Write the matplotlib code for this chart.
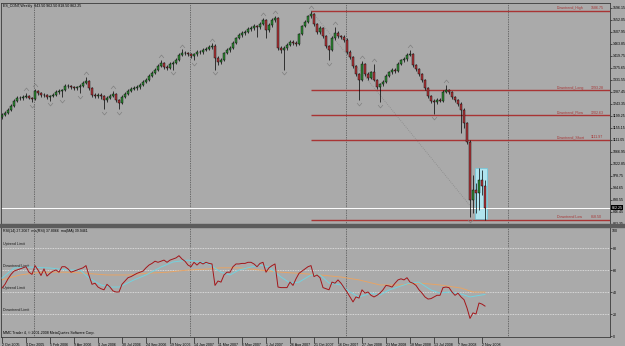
import matplotlib.pyplot as plt
import numpy as np
from matplotlib.patches import Rectangle
from matplotlib.path import Path

plt.rcParams.update({
    "font.family": ["Liberation Sans", "DejaVu Sans"],
    "font.size": 2.6,
})

# --- dati: barre settimanali ES ---
first_open = 1196
closes = [
    1203, 1211, 1222, 1236, 1255, 1266, 1264, 1269, 1273, 1266,
    1262, 1291, 1284, 1277, 1275, 1269, 1273, 1277, 1288, 1291,
    1295, 1310, 1308, 1306, 1302, 1304, 1310, 1321, 1328, 1302,
    1277, 1273, 1277, 1273, 1258, 1266, 1273, 1280, 1258, 1247,
    1269, 1280, 1291, 1299, 1302, 1306, 1313, 1324, 1332, 1346,
    1357, 1368, 1383, 1394, 1379, 1376, 1390, 1394, 1405, 1424,
    1431, 1429, 1427, 1420, 1427, 1435, 1433, 1442, 1446, 1453,
    1457, 1412, 1398, 1405, 1431, 1442, 1449, 1468, 1486, 1497,
    1504, 1508, 1519, 1523, 1530, 1526, 1537, 1552, 1515, 1534,
    1552, 1559, 1449, 1442, 1449, 1460, 1471, 1469, 1464, 1501,
    1530, 1545, 1567, 1574, 1537, 1508, 1523, 1493, 1457, 1442,
    1486, 1504, 1493, 1490, 1479, 1435, 1416, 1383, 1354, 1332,
    1391, 1354, 1339, 1361, 1332, 1306, 1317, 1325, 1347, 1361,
    1369, 1365, 1391, 1405, 1409, 1424, 1427, 1387, 1372, 1354,
    1332, 1302, 1273, 1255, 1251, 1258, 1256, 1288, 1295, 1288,
    1269, 1258, 1244, 1222, 1174, 1104, 891, 928, 917, 965,
    943.5, 862.25]
highs = [
    1210, 1217, 1228, 1242, 1260, 1272, 1271, 1275, 1283, 1278,
    1270, 1298, 1295, 1288, 1283, 1280, 1278, 1283, 1293, 1297,
    1300, 1316, 1316, 1313, 1311, 1310, 1315, 1327, 1343, 1332,
    1306, 1283, 1284, 1282, 1277, 1272, 1279, 1291, 1284, 1262,
    1275, 1286, 1297, 1305, 1308, 1312, 1319, 1330, 1338, 1352,
    1363, 1375, 1390, 1406, 1398, 1386, 1396, 1400, 1411, 1430,
    1444, 1437, 1435, 1431, 1432, 1440, 1440, 1448, 1452, 1459,
    1466, 1462, 1418, 1412, 1436, 1448, 1455, 1473, 1491, 1503,
    1510, 1514, 1525, 1529, 1536, 1535, 1543, 1560, 1556, 1540,
    1558, 1568, 1563, 1455, 1455, 1466, 1477, 1478, 1474, 1506,
    1535, 1551, 1572, 1586.75, 1579, 1541, 1530, 1527, 1497, 1461,
    1492, 1526, 1510, 1498, 1495, 1484, 1440, 1420, 1387, 1358,
    1402, 1395, 1360, 1366, 1392, 1336, 1322, 1331, 1352, 1366,
    1375, 1376, 1396, 1410, 1416, 1430, 1442, 1431, 1392, 1377,
    1358, 1336, 1306, 1278, 1260, 1264, 1264, 1293, 1313, 1300,
    1292, 1273, 1262, 1252, 1227, 1178, 1110, 983, 954, 1009,
    1001, 962.5]
lows = [
    1190, 1198, 1206, 1218, 1232, 1250, 1258, 1259, 1264, 1260,
    1251, 1258, 1277, 1270, 1268, 1262, 1256, 1268, 1273, 1280,
    1269, 1290, 1301, 1299, 1295, 1296, 1284, 1305, 1316, 1296,
    1270, 1265, 1267, 1262, 1225, 1252, 1260, 1268, 1252, 1225,
    1242, 1264, 1275, 1286, 1293, 1296, 1300, 1308, 1319, 1327,
    1341, 1352, 1363, 1378, 1372, 1368, 1371, 1370, 1389, 1400,
    1419, 1422, 1420, 1412, 1405, 1421, 1427, 1428, 1437, 1440,
    1447, 1370, 1385, 1390, 1400, 1426, 1436, 1444, 1462, 1481,
    1491, 1498, 1503, 1513, 1517, 1490, 1520, 1532, 1486, 1509,
    1528, 1546, 1440, 1430, 1370, 1443, 1455, 1461, 1455, 1459,
    1496, 1525, 1540, 1560, 1530, 1500, 1502, 1486, 1450, 1404,
    1437, 1480, 1486, 1482, 1472, 1428, 1408, 1375, 1346, 1258,
    1326, 1346, 1330, 1334, 1326, 1298, 1251, 1310, 1320, 1341,
    1355, 1358, 1360, 1386, 1399, 1403, 1419, 1380, 1365, 1347,
    1325, 1295, 1266, 1247, 1207, 1244, 1249, 1251, 1282, 1281,
    1262, 1251, 1237, 1137, 1156, 1096, 829, 844, 844, 855,
    910, 818.5]
up_fractals = [8, 11, 28, 37, 53, 60, 70, 87, 91, 103, 111, 120, 124, 136, 148]
down_fractals = [10, 16, 20, 26, 34, 39, 57, 64, 71, 94, 109, 119, 126, 144, 156]

# RSI(14) e medie
rsi = [
    43.6, 47, 52, 56, 59, 60, 61, 62, 63, 58,
    56, 64, 60, 55, 61, 54.5, 57, 59, 60, 58,
    63, 63, 61, 58, 59, 60, 61, 62, 64, 55,
    47, 48, 44.5, 43, 42, 47, 44.5, 41, 40, 40,
    47, 50, 53, 54, 55.5, 57, 58, 59, 62, 64.5,
    66, 68, 67, 68, 69, 67, 69, 70, 71, 73,
    70, 68, 64.5, 63, 67, 64.5, 67, 65.5, 67, 66,
    65.5, 46, 50, 49, 55.5, 58, 58, 63, 65.5, 65.5,
    66, 66, 67, 67, 65.5, 63, 66, 67, 58, 62,
    64, 65.5, 44.5, 44, 44, 44, 49, 46, 52, 57,
    59, 61, 63, 64, 54, 55.5, 53, 44, 43, 42,
    49, 48, 51, 48, 44, 40, 35.5, 31, 35.5, 34.5,
    42, 39, 40, 37, 35.5, 37, 39, 42, 46, 45.5,
    44.5, 48, 51, 52, 51, 53, 49, 48, 46, 42,
    39, 35.5, 33.6, 34, 35.5, 37, 37, 44, 44.5, 44,
    40, 37, 39, 35.5, 33, 25.5, 16, 21, 20, 30,
    29, 27.2]
ma_rsi_bars = [0, 4, 9, 16, 22, 26, 29, 33, 36, 39, 44, 48, 53, 57, 62, 66, 69, 73, 76, 79,
               83, 86, 89, 93, 96, 99, 103, 106, 109, 113, 116, 119, 123, 126, 129, 133,
               136, 139, 143, 146, 149, 153, 156, 161]
ma_rsi = [52.7, 61.8, 62.7, 61.8, 60, 60, 52.7, 46.4, 44.5, 44.5, 51, 55.5, 62.7, 67.3, 69,
          67.3, 65.5, 58, 55.5, 60, 62.7, 64.5, 62.7, 53.6, 48.2, 49, 55.5, 55.5, 48.2, 46.4,
          40, 35.5, 39, 37.3, 41.8, 45.5, 48.2, 49, 41.8, 39, 40, 38.2, 35.5, 37.8]
ma_ma_bars = [0, 6, 13, 22, 28, 35, 42, 48, 55, 62, 69, 73, 79, 86, 93, 99, 106, 113, 119,
              126, 133, 139, 146, 153, 157, 161]
ma_ma = [51, 55.5, 58, 58, 57, 55.5, 55.5, 57, 58, 60, 61, 62, 62, 60, 58, 57, 55.5, 53.6,
         51, 46.4, 46.4, 48.2, 46.4, 43.6, 40, 39.9]

# oggetti disegnati sul grafico
level_names = ["Downtrend_High", "Downtrend_Long", "Downtrend_Flow", "Downtrend_Short", "Downtrend Low"]
level_values = [1586.75, 1293.28, 1202.63, 1111.97, 818.50]
level_start_bar = 103
trend_bars = [103, 156]
trend_prices = [1586.75, 870.0]
box_bars = [157.7, 161.7]
box_prices = [821.7, 1008.8]
year_breaks = [10.7, 62.7, 114.7, 168.7]

price_ticks = [1596.15, 1552.05, 1507.95, 1463.85, 1419.75, 1375.65, 1331.55, 1287.45,
               1243.35, 1199.25, 1155.15, 1111.05, 1066.95, 1022.85, 978.75, 934.65,
               890.55, 846.45, 802.35]
date_labels = ["2 Oct 2005", "4 Dec 2005", "5 Feb 2006", "9 Apr 2006", "4 Jun 2006",
               "30 Jul 2006", "24 Sep 2006", "19 Nov 2006", "14 Jan 2007", "11 Mar 2007",
               "6 May 2007", "1 Jul 2007", "26 Aug 2007", "21 Oct 2007", "16 Dec 2007",
               "27 Jan 2008", "23 Mar 2008", "18 May 2008", "13 Jul 2008", "7 Sep 2008",
               "2 Nov 2008"]
rsi_levels = [80, 60, 40, 20]
rsi_level_names = ["Uptrend Limit", "Downtrend Limit", "Uptrend Limit", "Downtrend Limit"]

# --- stile ---
BG = '#aaaaaa'
BULL = '#2f8a35'
BEAR = '#b0363a'
LEVEL = '#a83434'
W, H = 625, 346

fig = plt.figure(figsize=(W / 100, H / 100), dpi=100, facecolor=BG)


def px_axes(x0, y0, x1, y1):
    a = fig.add_axes([x0 / W, 1 - y1 / H, (x1 - x0) / W, (y1 - y0) / H])
    a.set_facecolor(BG)
    for s in a.spines.values():
        s.set_color('#3a3a3a')
        s.set_linewidth(0.6)
    return a


ax = px_axes(1, 3, 610, 224)
ax2 = px_axes(1, 227, 610, 337)
fig.patches.append(Rectangle((0, 1 - 227 / H), 1, 3 / H, transform=fig.transFigure,
                             color='#5c5c5c', zorder=5))

xlim = (-1 / 3, 608 / 3)
x = np.arange(len(closes))
opens = np.array([first_open] + closes[:-1], dtype=float)
closes_a = np.array(closes, dtype=float)
highs_a = np.array(highs, dtype=float)
lows_a = np.array(lows, dtype=float)
up = closes_a >= opens

# --- pannello prezzi ---
ax.set_xlim(*xlim)
ax.set_ylim(803.3, 1614.4)

for b in year_breaks:
    ax.axvline(b, color='#2a2a2a', lw=0.5, ls=(0, (1, 1.5)), zorder=1)
    ax2.axvline(b, color='#2a2a2a', lw=0.5, ls=(0, (1, 1.5)), zorder=1)

ax.add_patch(Rectangle((box_bars[0], box_prices[0]), box_bars[1] - box_bars[0],
                       box_prices[1] - box_prices[0], facecolor='#b0e4ee',
                       edgecolor='#6cc8dc', lw=0.5, zorder=1.5))

ax.plot(trend_bars, trend_prices, color='#8a8a8a', lw=0.6, ls=(0, (1, 1.5)), zorder=1.6)

for name, val in zip(level_names, level_values):
    ax.hlines(val, level_start_bar, xlim[1], color=LEVEL, lw=1.0, zorder=2)
    ax.text(185, val + 2, name, color=LEVEL, fontsize=2.6, va='bottom', ha='left')
    ax.text(196.3, val + 2, f"{val:.2f}", color=LEVEL, fontsize=2.6, va='bottom', ha='left')

ax.axhline(closes_a[-1], color='white', lw=0.7, zorder=2.2)

ax.vlines(x, lows_a, highs_a, color='black', lw=0.5, zorder=3)
body = np.where(np.abs(closes_a - opens) < 1.5, 1.5, closes_a - opens)
ax.bar(x, body, bottom=opens, width=0.66, color=np.where(up, BULL, BEAR),
       edgecolor='black', linewidth=0.3, zorder=4)

chev_up = Path([(-1, -0.6), (0, 0.6), (1, -0.6)], [Path.MOVETO, Path.LINETO, Path.LINETO])
chev_dn = Path([(-1, 0.6), (0, -0.6), (1, 0.6)], [Path.MOVETO, Path.LINETO, Path.LINETO])
ax.plot(up_fractals, highs_a[up_fractals] + 14, ls='none', marker=chev_up, ms=3.5,
        mfc='none', mec='#808080', mew=0.5, zorder=4)
ax.plot(down_fractals, lows_a[down_fractals] - 14, ls='none', marker=chev_dn, ms=3.5,
        mfc='none', mec='#808080', mew=0.5, zorder=4)

ax.set_xticks([])
ax.yaxis.tick_right()
ax.set_yticks(price_ticks)
ax.set_yticklabels([f"{v:.2f}" for v in price_ticks])
ax.tick_params(axis='y', labelsize=2.6, length=1.5, width=0.4, pad=0.8, colors='black')
ax.text(0.003, 0.995, "ES_CONT,Weekly  943.50 962.50 818.50 862.25", transform=ax.transAxes,
        va='top', ha='left', fontsize=2.6)
ax.text(1.003, closes_a[-1], f"{closes_a[-1]:.2f}", transform=ax.get_yaxis_transform(),
        va='center', ha='left', fontsize=2.6, color='white',
        bbox=dict(boxstyle='square,pad=0.15', fc='black', ec='none'))

# --- pannello RSI ---
ax2.set_xlim(*xlim)
ax2.set_ylim(-0.9, 99.1)
for lv, name in zip(rsi_levels, rsi_level_names):
    ax2.axhline(lv, color='#e8e8e8', lw=0.6, ls=(0, (1, 1)), zorder=1)
    ax2.text(0.3, lv + 1.5, name, fontsize=2.6, va='bottom', ha='left', color='#1a1a1a')

ax2.plot(ma_ma_bars, ma_ma, color='#e6a466', lw=0.7, zorder=2)
ax2.plot(ma_rsi_bars, ma_rsi, color='#72d2de', lw=0.7, zorder=3)
ax2.plot(x, rsi, color='#a3161a', lw=0.7, zorder=4)

ax2.text(0.003, 0.985, "RSI(14) 27.2067  ma(RSI) 37.8066  ma(MA) 39.9461", transform=ax2.transAxes,
         va='top', ha='left', fontsize=2.6)
ax2.text(0.003, 0.02, "MMC Trader 4, \u00a9 2001-2008 MetaQuotes Software Corp.",
         transform=ax2.transAxes, va='bottom', ha='left', fontsize=2.6)

ax2.yaxis.tick_right()
ax2.set_yticks([0, 20, 40, 60, 80])
ax2.tick_params(axis='y', labelsize=2.6, length=1.5, width=0.4, pad=0.8, colors='black')
ax2.text(1.003, 0.985, "100", transform=ax2.transAxes, va='top', ha='left', fontsize=2.6)

ax2.set_xticks(np.arange(len(date_labels)) * 8)
ax2.set_xticklabels(date_labels)
for lab in ax2.get_xticklabels():
    lab.set_ha('left')
ax2.tick_params(axis='x', labelsize=2.6, length=4, width=0.4, pad=0.6, direction='out')

fig.savefig('out.png', dpi=100, facecolor=BG)
